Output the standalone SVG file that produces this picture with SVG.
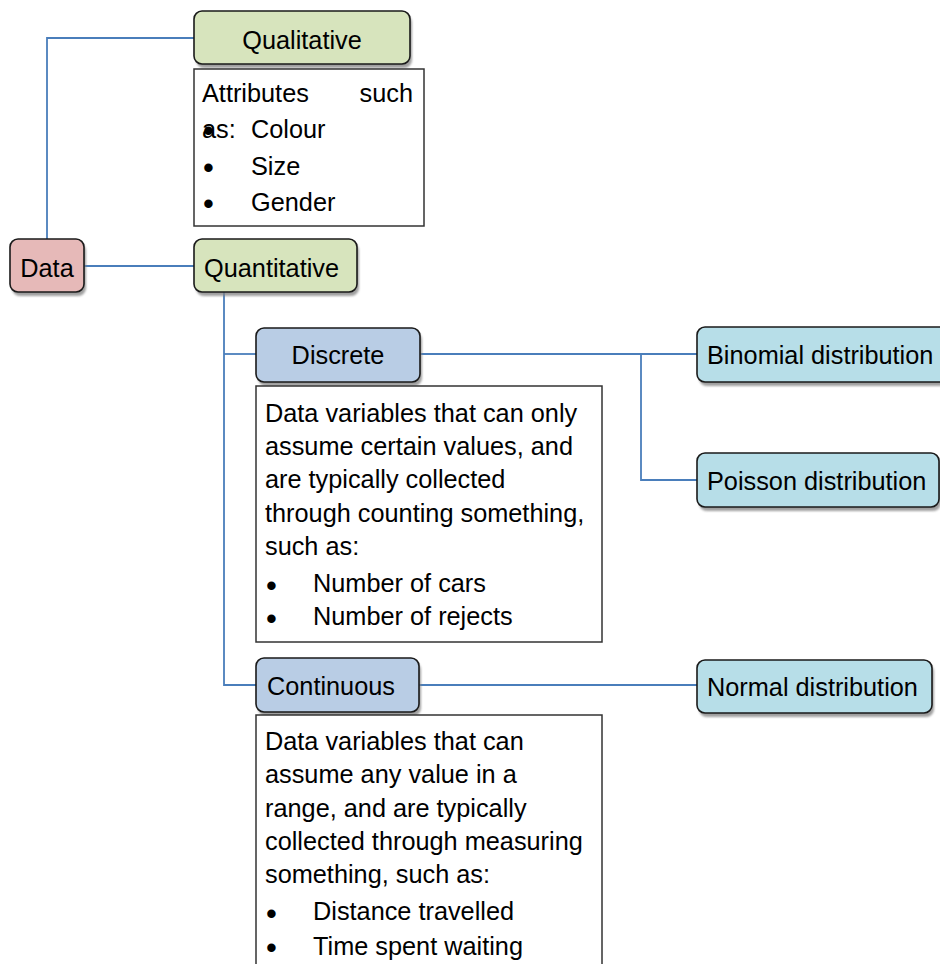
<svg xmlns="http://www.w3.org/2000/svg" width="940" height="964" viewBox="0 0 940 964">
<style>
text{font-family:"Liberation Sans",Arial,sans-serif;font-size:25.3px;fill:#000}
text.b{font-size:31px}
.node{stroke:#1a1a1a;stroke-width:1.6}
.shadow{fill:#808080;opacity:0.75;filter:url(#blur)}
.note{fill:#fff;stroke:#333;stroke-width:1.5}
.conn{fill:none;stroke:#4a7ebb;stroke-width:1.8}
.green{fill:#d7e4bd}
.pink{fill:#e6b9b8}
.blue{fill:#b9cde5}
.cyan{fill:#b7dee8}
.c{text-anchor:middle}
</style>
<defs>
<filter id="blur" x="-10%" y="-10%" width="120%" height="130%"><feGaussianBlur stdDeviation="1.2"/></filter>
</defs>
<rect width="940" height="964" fill="#fff"/>
<g id="connectors">
<path class="conn" d="M194,38 H47 V239"/>
<path class="conn" d="M84,266 H194"/>
<path class="conn" d="M224,292 V685 H256"/>
<path class="conn" d="M224,354 H256"/>
<path class="conn" d="M420,354 H697"/>
<path class="conn" d="M641,354 V480 H697"/>
<path class="conn" d="M419,685 H697"/>
</g>
<g id="qualitative">
<rect class="shadow" x="196" y="15" width="216" height="53" rx="8"/>
<rect class="node green" x="194" y="11" width="216" height="53" rx="8"/>
<text class="c" x="302" y="49">Qualitative</text>
</g>
<g id="qualitative-note">
<rect class="note" x="194" y="69" width="230" height="157"/>
<text x="202" y="102">Attributes</text>
<text x="413" y="102" text-anchor="end">such</text>
<text x="202" y="138">as:</text>
<text class="b" x="203" y="141">•</text>
<text x="251" y="138">Colour</text>
<text class="b" x="203" y="178">•</text>
<text x="251" y="175">Size</text>
<text class="b" x="203" y="214">•</text>
<text x="251" y="211">Gender</text>
</g>
<g id="data">
<rect class="shadow" x="12" y="243" width="74" height="53" rx="8"/>
<rect class="node pink" x="10" y="239" width="74" height="53" rx="8"/>
<text class="c" x="47" y="277">Data</text>
</g>
<g id="quantitative">
<rect class="shadow" x="196" y="243" width="163" height="53" rx="8"/>
<rect class="node green" x="194" y="239" width="163" height="53" rx="8"/>
<text x="204" y="277">Quantitative</text>
</g>
<g id="discrete">
<rect class="shadow" x="258" y="332" width="164" height="54" rx="8"/>
<rect class="node blue" x="256" y="328" width="164" height="54" rx="8"/>
<text class="c" x="338" y="364">Discrete</text>
</g>
<g id="discrete-note">
<rect class="note" x="256" y="386" width="346" height="256"/>
<text x="265" y="422">Data variables that can only</text>
<text x="265" y="455">assume certain values, and</text>
<text x="265" y="488">are typically collected</text>
<text x="265" y="522">through counting something,</text>
<text x="265" y="555">such as:</text>
<text class="b" x="266" y="596">•</text>
<text x="313" y="592">Number of cars</text>
<text class="b" x="266" y="629">•</text>
<text x="313" y="625">Number of rejects</text>
</g>
<g id="continuous">
<rect class="shadow" x="258" y="662" width="163" height="54" rx="8"/>
<rect class="node blue" x="256" y="658" width="163" height="54" rx="8"/>
<text x="267" y="695">Continuous</text>
</g>
<g id="continuous-note">
<rect class="note" x="256" y="715" width="346" height="260"/>
<text x="265" y="750">Data variables that can</text>
<text x="265" y="783">assume any value in a</text>
<text x="265" y="817">range, and are typically</text>
<text x="265" y="850">collected through measuring</text>
<text x="265" y="883">something, such as:</text>
<text class="b" x="266" y="924">•</text>
<text x="313" y="920">Distance travelled</text>
<text class="b" x="266" y="958">•</text>
<text x="313" y="955">Time spent waiting</text>
</g>
<g id="binomial">
<rect class="shadow" x="699" y="331" width="260" height="55" rx="8"/>
<rect class="node cyan" x="697" y="327" width="260" height="55" rx="8"/>
<text x="707" y="364">Binomial distribution</text>
</g>
<g id="poisson">
<rect class="shadow" x="699" y="457" width="242" height="54" rx="8"/>
<rect class="node cyan" x="697" y="453" width="242" height="54" rx="8"/>
<text x="707" y="490">Poisson distribution</text>
</g>
<g id="normal">
<rect class="shadow" x="699" y="664" width="235" height="53" rx="8"/>
<rect class="node cyan" x="697" y="660" width="235" height="53" rx="8"/>
<text x="707" y="696">Normal distribution</text>
</g>
</svg>
